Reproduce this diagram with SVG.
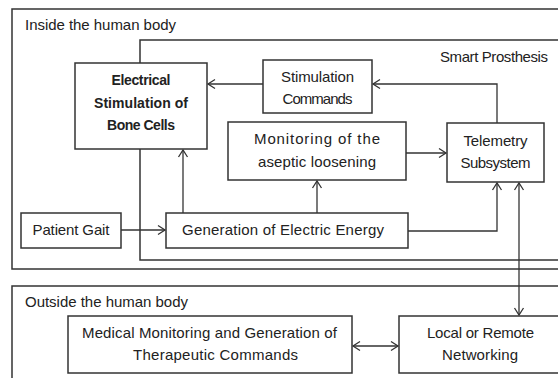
<svg xmlns="http://www.w3.org/2000/svg" width="558" height="378" viewBox="0 0 558 378">
<defs>
<style>
.box{fill:#fff;stroke:#333;stroke-width:1.5}
.frame{fill:none;stroke:#333;stroke-width:1.5}
.c{fill:none;stroke:#333;stroke-width:1.3}
text{font-family:"Liberation Sans",Arial,sans-serif;font-size:15px;fill:#222}
.m{text-anchor:middle}
.b{font-weight:bold;font-size:14px}
</style>
<marker id="ah" markerUnits="userSpaceOnUse" markerWidth="12" markerHeight="12" viewBox="0 0 12 12" refX="10" refY="6" orient="auto-start-reverse">
<path d="M3,1.5 L10,6 L3,10.5" fill="none" stroke="#333" stroke-width="1.3"/>
</marker>
</defs>
<g id="inside">
<rect class="frame" x="12" y="9" width="560" height="260"/>
<text x="25" y="30" textLength="151">Inside the human body</text>
</g>
<g id="smart-prosthesis">
<rect class="frame" x="140" y="40" width="430" height="220"/>
<text x="440" y="62" textLength="108">Smart Prosthesis</text>
</g>
<g id="outside">
<rect class="frame" x="12" y="286" width="560" height="100"/>
<text x="25" y="307" textLength="163">Outside the human body</text>
</g>
<g id="connectors">
<path class="c" d="M263,84 H208" marker-end="url(#ah)"/>
<path class="c" d="M497,123 V84 H373" marker-end="url(#ah)"/>
<path class="c" d="M406,153 H446" marker-end="url(#ah)"/>
<path class="c" d="M183,213 V150" marker-end="url(#ah)"/>
<path class="c" d="M317,213 V181" marker-end="url(#ah)"/>
<path class="c" d="M408,231 H497 V183" marker-end="url(#ah)"/>
<path class="c" d="M121,230 H165" marker-end="url(#ah)"/>
<path class="c" d="M519,183 V315" marker-start="url(#ah)" marker-end="url(#ah)"/>
<path class="c" d="M353,346 H398" marker-start="url(#ah)" marker-end="url(#ah)"/>
</g>
<g id="electrical-stimulation">
<rect class="box" x="75" y="63" width="132" height="86"/>
<text class="m b" x="141" y="85" textLength="59">Electrical</text>
<text class="m b" x="141" y="108" textLength="94">Stimulation  of</text>
<text class="m b" x="141" y="130" textLength="68">Bone Cells</text>
</g>
<g id="stimulation-commands">
<rect class="box" x="263" y="60" width="109" height="53"/>
<text class="m" x="317.5" y="82" textLength="73">Stimulation</text>
<text class="m" x="317.5" y="104" textLength="70">Commands</text>
</g>
<g id="monitoring">
<rect class="box" x="228" y="122" width="178" height="58"/>
<text class="m" x="317" y="144" textLength="126">Monitoring of the</text>
<text class="m" x="317" y="167" textLength="118">aseptic loosening</text>
</g>
<g id="telemetry">
<rect class="box" x="447" y="123" width="97" height="59"/>
<text class="m" x="495.5" y="146" textLength="64">Telemetry</text>
<text class="m" x="495.5" y="168" textLength="70">Subsystem</text>
</g>
<g id="patient-gait">
<rect class="box" x="21" y="213" width="100" height="35"/>
<text class="m" x="71" y="235" textLength="77">Patient Gait</text>
</g>
<g id="generation">
<rect class="box" x="166" y="213" width="242" height="35"/>
<text class="m" x="283" y="235" textLength="202">Generation of Electric Energy</text>
</g>
<g id="medical">
<rect class="box" x="68" y="316" width="284" height="57"/>
<text class="m" x="209.5" y="338" textLength="255">Medical Monitoring and Generation of</text>
<text class="m" x="215.5" y="360" textLength="165">Therapeutic Commands</text>
</g>
<g id="networking">
<rect class="box" x="399" y="316" width="170" height="57"/>
<text class="m" x="480.5" y="338" textLength="107">Local or Remote</text>
<text class="m" x="480" y="360" textLength="76">Networking</text>
</g>
</svg>
